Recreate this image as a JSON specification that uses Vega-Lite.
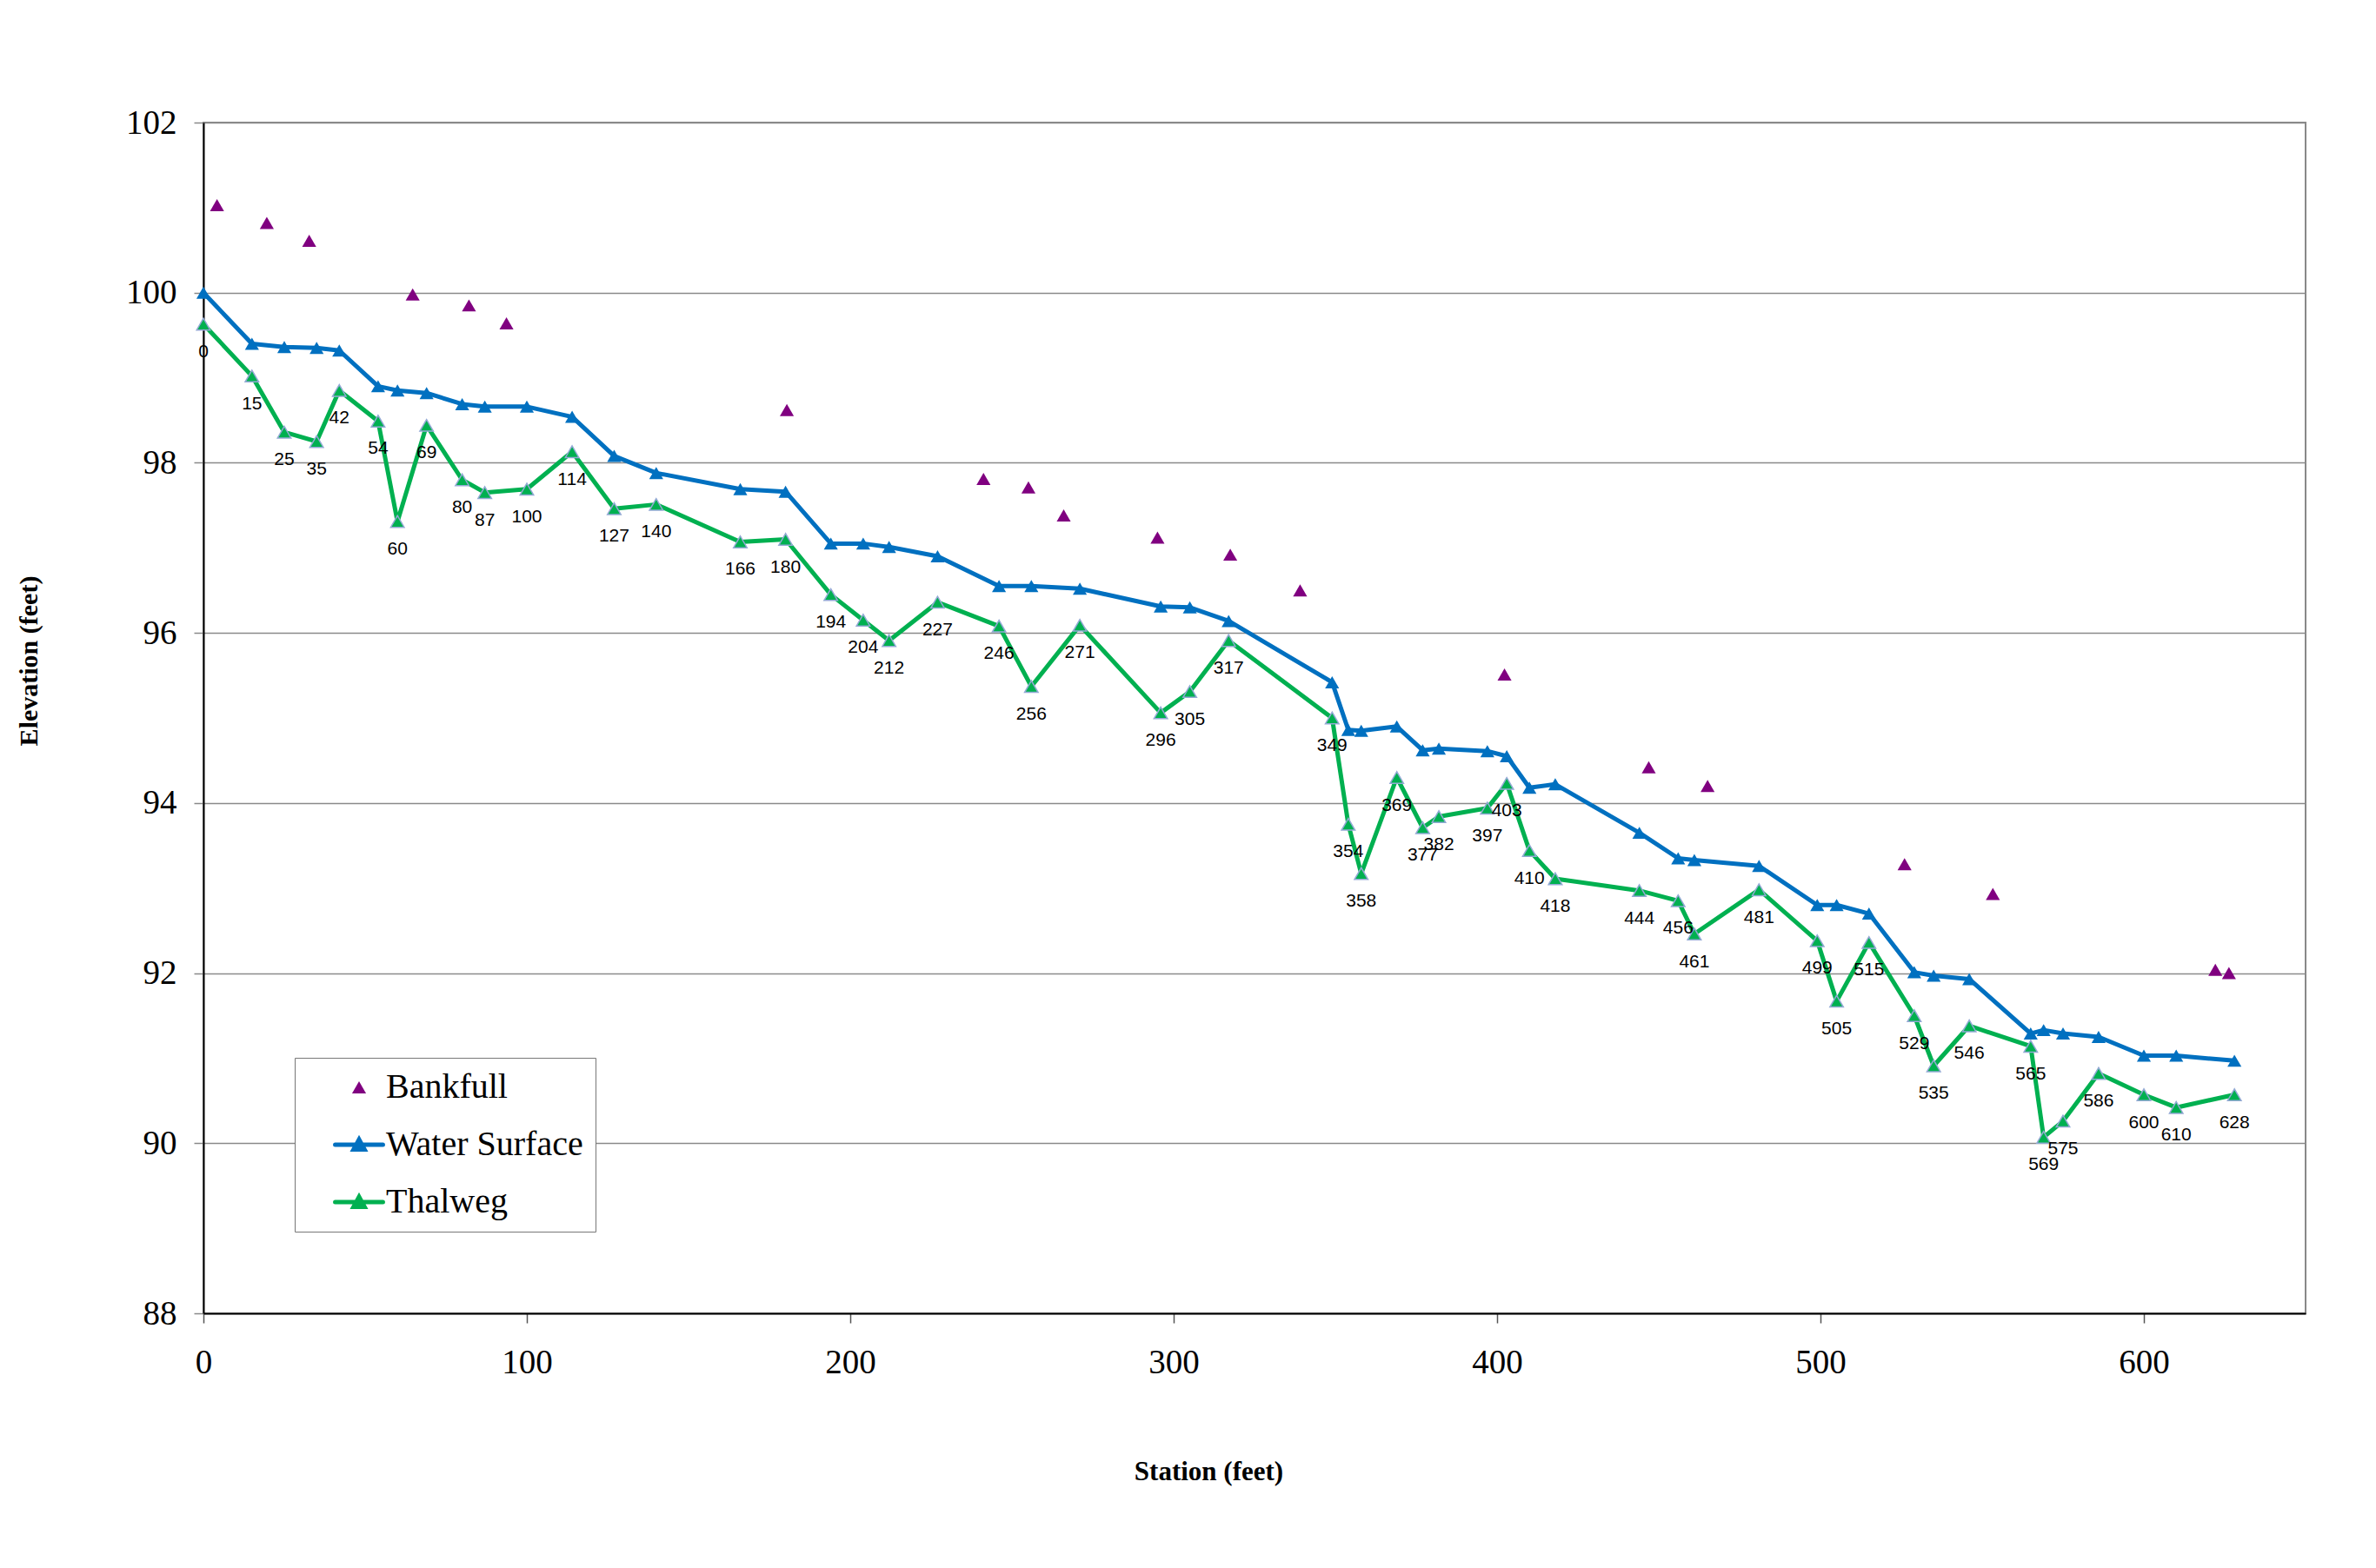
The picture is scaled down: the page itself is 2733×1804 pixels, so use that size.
{
  "$schema": "https://vega.github.io/schema/vega-lite/v6.json",
  "width": 2418,
  "height": 1370,
  "autosize": {"type": "none"},
  "padding": {"left": 234, "top": 141, "right": 81, "bottom": 293},
  "background": "white",
  "config": {"view": {"stroke": "#888888", "strokeWidth": 2}},
  "data": {"values": [
    {"series": "Bankfull", "station": 4.2, "elev": 101.03},
    {"series": "Bankfull", "station": 19.6, "elev": 100.82},
    {"series": "Bankfull", "station": 32.7, "elev": 100.61},
    {"series": "Bankfull", "station": 64.7, "elev": 99.98},
    {"series": "Bankfull", "station": 82.1, "elev": 99.85},
    {"series": "Bankfull", "station": 93.7, "elev": 99.64},
    {"series": "Bankfull", "station": 180.4, "elev": 98.62},
    {"series": "Bankfull", "station": 241.2, "elev": 97.81},
    {"series": "Bankfull", "station": 255.1, "elev": 97.71},
    {"series": "Bankfull", "station": 266.0, "elev": 97.38},
    {"series": "Bankfull", "station": 295.0, "elev": 97.12},
    {"series": "Bankfull", "station": 317.5, "elev": 96.92},
    {"series": "Bankfull", "station": 339.1, "elev": 96.5},
    {"series": "Bankfull", "station": 402.3, "elev": 95.51},
    {"series": "Bankfull", "station": 446.9, "elev": 94.42},
    {"series": "Bankfull", "station": 465.1, "elev": 94.2},
    {"series": "Bankfull", "station": 526.0, "elev": 93.28},
    {"series": "Bankfull", "station": 553.3, "elev": 92.93},
    {"series": "Bankfull", "station": 622.1, "elev": 92.04},
    {"series": "Bankfull", "station": 626.3, "elev": 92.0},
    {"series": "Water Surface", "station": 0, "elev": 100.0},
    {"series": "Water Surface", "station": 15, "elev": 99.4},
    {"series": "Water Surface", "station": 25, "elev": 99.36},
    {"series": "Water Surface", "station": 35, "elev": 99.35},
    {"series": "Water Surface", "station": 42, "elev": 99.32},
    {"series": "Water Surface", "station": 54, "elev": 98.9},
    {"series": "Water Surface", "station": 60, "elev": 98.85},
    {"series": "Water Surface", "station": 69, "elev": 98.82},
    {"series": "Water Surface", "station": 80, "elev": 98.69},
    {"series": "Water Surface", "station": 87, "elev": 98.66},
    {"series": "Water Surface", "station": 100, "elev": 98.66},
    {"series": "Water Surface", "station": 114, "elev": 98.54},
    {"series": "Water Surface", "station": 127, "elev": 98.08},
    {"series": "Water Surface", "station": 140, "elev": 97.88},
    {"series": "Water Surface", "station": 166, "elev": 97.69},
    {"series": "Water Surface", "station": 180, "elev": 97.66},
    {"series": "Water Surface", "station": 194, "elev": 97.05},
    {"series": "Water Surface", "station": 204, "elev": 97.05},
    {"series": "Water Surface", "station": 212, "elev": 97.01},
    {"series": "Water Surface", "station": 227, "elev": 96.9},
    {"series": "Water Surface", "station": 246, "elev": 96.55},
    {"series": "Water Surface", "station": 256, "elev": 96.55},
    {"series": "Water Surface", "station": 271, "elev": 96.52},
    {"series": "Water Surface", "station": 296, "elev": 96.31},
    {"series": "Water Surface", "station": 305, "elev": 96.3},
    {"series": "Water Surface", "station": 317, "elev": 96.14},
    {"series": "Water Surface", "station": 349, "elev": 95.42},
    {"series": "Water Surface", "station": 354, "elev": 94.86},
    {"series": "Water Surface", "station": 358, "elev": 94.85},
    {"series": "Water Surface", "station": 369, "elev": 94.9},
    {"series": "Water Surface", "station": 377, "elev": 94.62},
    {"series": "Water Surface", "station": 382, "elev": 94.64},
    {"series": "Water Surface", "station": 397, "elev": 94.61},
    {"series": "Water Surface", "station": 403, "elev": 94.55},
    {"series": "Water Surface", "station": 410, "elev": 94.18},
    {"series": "Water Surface", "station": 418, "elev": 94.22},
    {"series": "Water Surface", "station": 444, "elev": 93.65},
    {"series": "Water Surface", "station": 456, "elev": 93.35},
    {"series": "Water Surface", "station": 461, "elev": 93.33},
    {"series": "Water Surface", "station": 481, "elev": 93.26},
    {"series": "Water Surface", "station": 499, "elev": 92.8},
    {"series": "Water Surface", "station": 505, "elev": 92.8},
    {"series": "Water Surface", "station": 515, "elev": 92.7},
    {"series": "Water Surface", "station": 529, "elev": 92.01},
    {"series": "Water Surface", "station": 535, "elev": 91.97},
    {"series": "Water Surface", "station": 546, "elev": 91.93},
    {"series": "Water Surface", "station": 565, "elev": 91.29},
    {"series": "Water Surface", "station": 569, "elev": 91.33},
    {"series": "Water Surface", "station": 575, "elev": 91.29},
    {"series": "Water Surface", "station": 586, "elev": 91.25},
    {"series": "Water Surface", "station": 600, "elev": 91.03},
    {"series": "Water Surface", "station": 610, "elev": 91.03},
    {"series": "Water Surface", "station": 628, "elev": 90.97},
    {"series": "Thalweg", "station": 0, "elev": 99.63},
    {"series": "Thalweg", "station": 15, "elev": 99.02},
    {"series": "Thalweg", "station": 25, "elev": 98.36},
    {"series": "Thalweg", "station": 35, "elev": 98.25},
    {"series": "Thalweg", "station": 42, "elev": 98.85},
    {"series": "Thalweg", "station": 54, "elev": 98.49},
    {"series": "Thalweg", "station": 60, "elev": 97.31},
    {"series": "Thalweg", "station": 69, "elev": 98.44},
    {"series": "Thalweg", "station": 80, "elev": 97.8},
    {"series": "Thalweg", "station": 87, "elev": 97.65},
    {"series": "Thalweg", "station": 100, "elev": 97.69},
    {"series": "Thalweg", "station": 114, "elev": 98.13},
    {"series": "Thalweg", "station": 127, "elev": 97.46},
    {"series": "Thalweg", "station": 140, "elev": 97.51},
    {"series": "Thalweg", "station": 166, "elev": 97.07},
    {"series": "Thalweg", "station": 180, "elev": 97.1},
    {"series": "Thalweg", "station": 194, "elev": 96.45},
    {"series": "Thalweg", "station": 204, "elev": 96.15},
    {"series": "Thalweg", "station": 212, "elev": 95.91},
    {"series": "Thalweg", "station": 227, "elev": 96.36},
    {"series": "Thalweg", "station": 246, "elev": 96.08},
    {"series": "Thalweg", "station": 256, "elev": 95.37},
    {"series": "Thalweg", "station": 271, "elev": 96.09},
    {"series": "Thalweg", "station": 296, "elev": 95.06},
    {"series": "Thalweg", "station": 305, "elev": 95.31},
    {"series": "Thalweg", "station": 317, "elev": 95.91},
    {"series": "Thalweg", "station": 349, "elev": 95.0},
    {"series": "Thalweg", "station": 354, "elev": 93.75},
    {"series": "Thalweg", "station": 358, "elev": 93.17},
    {"series": "Thalweg", "station": 369, "elev": 94.3},
    {"series": "Thalweg", "station": 377, "elev": 93.71},
    {"series": "Thalweg", "station": 382, "elev": 93.84},
    {"series": "Thalweg", "station": 397, "elev": 93.94},
    {"series": "Thalweg", "station": 403, "elev": 94.23},
    {"series": "Thalweg", "station": 410, "elev": 93.44},
    {"series": "Thalweg", "station": 418, "elev": 93.11},
    {"series": "Thalweg", "station": 444, "elev": 92.97},
    {"series": "Thalweg", "station": 456, "elev": 92.85},
    {"series": "Thalweg", "station": 461, "elev": 92.46},
    {"series": "Thalweg", "station": 481, "elev": 92.98},
    {"series": "Thalweg", "station": 499, "elev": 92.38},
    {"series": "Thalweg", "station": 505, "elev": 91.67},
    {"series": "Thalweg", "station": 515, "elev": 92.36},
    {"series": "Thalweg", "station": 529, "elev": 91.5},
    {"series": "Thalweg", "station": 535, "elev": 90.91},
    {"series": "Thalweg", "station": 546, "elev": 91.38},
    {"series": "Thalweg", "station": 565, "elev": 91.14},
    {"series": "Thalweg", "station": 569, "elev": 90.07},
    {"series": "Thalweg", "station": 575, "elev": 90.26},
    {"series": "Thalweg", "station": 586, "elev": 90.82},
    {"series": "Thalweg", "station": 600, "elev": 90.57},
    {"series": "Thalweg", "station": 610, "elev": 90.42},
    {"series": "Thalweg", "station": 628, "elev": 90.57}
  ]},
  "encoding": {
    "x": {
      "field": "station", "type": "quantitative",
      "scale": {"domain": [0, 650], "nice": false, "zero": false},
      "axis": {
        "values": [0, 100, 200, 300, 400, 500, 600],
        "grid": false,
        "domainColor": "#000000", "domainWidth": 2,
        "tickColor": "#555555", "tickSize": 11, "tickWidth": 1.5,
        "labelFont": "Liberation Serif", "labelFontSize": 39, "labelColor": "#000000",
        "labelPadding": 26, "labelBaseline": "top", "labelFlush": false,
        "title": "Station (feet)",
        "titleFont": "Liberation Serif", "titleFontSize": 31, "titleFontWeight": "bold", "titleColor": "#000000",
        "titleX": 1156, "titleY": 182, "titleBaseline": "middle", "titleAlign": "center", "titleAnchor": null
      }
    },
    "y": {
      "field": "elev", "type": "quantitative",
      "scale": {"domain": [88, 102], "nice": false, "zero": false},
      "axis": {
        "values": [88, 90, 92, 94, 96, 98, 100, 102],
        "grid": true, "gridColor": "#8a8a8a", "gridWidth": 1.5,
        "domainColor": "#000000", "domainWidth": 2,
        "tickColor": "#888888", "tickSize": 11, "tickWidth": 1.5,
        "labelFont": "Liberation Serif", "labelFontSize": 39, "labelColor": "#000000",
        "labelPadding": 20, "labelBaseline": "middle", "labelFlush": false,
        "title": "Elevation (feet)",
        "titleFont": "Liberation Serif", "titleFontSize": 30, "titleFontWeight": "bold", "titleColor": "#000000",
        "titleX": -201, "titleY": 619, "titleAngle": 270, "titleBaseline": "middle", "titleAlign": "center", "titleAnchor": null
      }
    },
    "color": {
      "field": "series", "type": "nominal",
      "scale": {"domain": ["Bankfull", "Water Surface", "Thalweg"], "range": ["#800080", "#0070C0", "#00B050"]},
      "legend": {
        "orient": "none", "legendX": 105, "legendY": 1076,
        "title": null, "padding": 14,
        "strokeColor": "#777777", "fillColor": "#ffffff",
        "symbolSize": 900, "symbolStrokeWidth": 5, "symbolOffset": 40,
        "labelOffset": 11, "rowPadding": 26,
        "labelFont": "Liberation Serif", "labelFontSize": 40, "labelColor": "#000000", "labelLimit": 0,
        "labelExpr": "datum.label + '\u00a0\u00a0\u00a0'",
        "encode": {
          "symbols": {
            "update": {
              "shape": {"signal": "datum.value === 'Bankfull' ? 'triangle-up' : 'M-1.83,0H1.83M0,-0.4L0.42,0.36L-0.42,0.36Z'"},
              "size": {"signal": "datum.value === 'Bankfull' ? 260 : 900"},
              "strokeWidth": {"signal": "datum.value === 'Bankfull' ? 0 : 5"},
              "fill": {"scale": "color", "field": "value"},
              "stroke": {"scale": "color", "field": "value"},
              "strokeCap": {"value": "round"},
              "opacity": {"value": 1}
            }
          }
        }
      }
    }
  },
  "layer": [
    {
      "transform": [{"filter": "datum.series === 'Bankfull'"}],
      "mark": {"type": "point", "shape": "triangle-up", "filled": true, "size": 260, "opacity": 1}
    },
    {
      "transform": [{"filter": "datum.series === 'Water Surface'"}],
      "mark": {"type": "line", "strokeWidth": 5, "strokeJoin": "round", "strokeCap": "round"}
    },
    {
      "transform": [{"filter": "datum.series === 'Water Surface'"}],
      "mark": {"type": "point", "shape": "triangle-up", "filled": true, "size": 260, "opacity": 1}
    },
    {
      "transform": [{"filter": "datum.series === 'Thalweg'"}],
      "mark": {"type": "line", "strokeWidth": 5, "strokeJoin": "round", "strokeCap": "round"}
    },
    {
      "transform": [{"filter": "datum.series === 'Thalweg'"}],
      "mark": {"type": "point", "shape": "triangle-up", "filled": true, "size": 240, "opacity": 1, "stroke": "#93A9D4", "strokeWidth": 1.5}
    },
    {
      "transform": [{"filter": "datum.series === 'Thalweg'"}],
      "mark": {"type": "text", "dy": 32, "font": "Liberation Sans", "fontSize": 21, "baseline": "middle", "align": "center"},
      "encoding": {
        "text": {"field": "station", "type": "quantitative", "format": "d"},
        "color": {"value": "#000000"}
      }
    }
  ]
}
